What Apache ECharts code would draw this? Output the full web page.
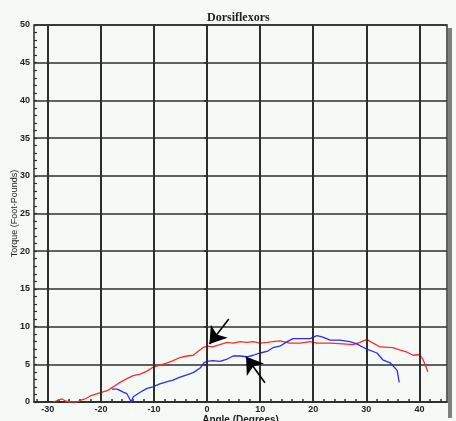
<!DOCTYPE html>
<html>
<head>
<meta charset="utf-8">
<script src="https://cdn.jsdelivr.net/npm/echarts@6/dist/echarts.min.js"></script>
<style>
  html, body { margin: 0; padding: 0; background: #f5faf7; }
  #chart { width: 456px; height: 421px; }
</style>
</head>
<body>
<div id="chart"></div>
<script>
// Dorsiflexor torque vs. ankle angle, two trials
const redAngle = [-29.0,-28.2,-27.3,-26.6,-25.8,-24.5,-23.9,-23.0,-22.0,-20.2,-18.8,-17.7,-16.4,-15.1,-13.9,-12.6,-11.3,-10.2,-8.9,-7.5,-6.4,-5.1,-3.8,-2.6,-1.9,-0.8,0,1.1,2.4,3.8,4.9,6.2,7.5,8.7,10.0,11.3,12.4,13.7,15.6,17.5,19.4,20.7,23.2,25.6,27.5,28.8,30.1,31.3,32.6,35.0,36.3,37.7,38.8,40.1,40.7,41.6];
const redTorque = [0,0.2,0.4,0.1,0,0,0.2,0.4,0.8,1.2,1.5,2.0,2.6,3.1,3.5,3.7,4.1,4.6,4.9,5.2,5.5,5.9,6.1,6.2,6.6,7.2,7.4,7.3,7.6,7.9,7.8,8.0,7.9,8.0,7.8,7.9,8.0,8.1,7.8,7.8,8.0,7.8,7.8,7.7,7.6,7.9,8.3,7.8,7.3,7.2,6.9,6.6,6.2,6.3,5.6,4.0];

const blueAngle = [-17.9,-16.9,-15.8,-15.1,-14.5,-14.3,-13.9,-12.6,-11.3,-10.2,-8.9,-7.5,-6.4,-5.1,-3.8,-2.6,-1.3,-0.6,0,1.1,2.4,3.8,4.9,6.2,7.5,8.7,10.0,11.3,12.4,13.7,15.1,16.2,17.5,19.4,20.7,21.8,23.2,25.0,26.9,28.2,30.1,32.0,33.1,34.5,35.8,36.2];
const blueTorque = [1.7,1.7,1.3,1.1,0.3,0.0,0.7,1.3,1.8,2.0,2.4,2.7,2.9,3.3,3.6,3.9,4.5,5.2,5.4,5.5,5.4,5.7,6.1,6.1,6.0,6.2,6.5,6.7,7.2,7.4,8.0,8.4,8.4,8.4,8.8,8.6,8.2,8.2,8.0,7.7,7.0,6.5,5.6,5.2,4.2,2.6];

// axis ticks and labels
const xLabelValues = [-30,-20,-10,0,10,20,30,40];
const xTickValues = [-32,-30,-28,-26,-24,-22,-20,-18,-16,-14,-12,-10,-8,-6,-4,-2,0,2,4,6,8,10,12,14,16,18,20,22,24,26,28,30,32,34,36,38,40,42,44];

// annotation arrows: [start angle, start torque, tip angle, tip torque]
const arrowA = [4.1, 11.0, 0.45, 7.7];
const arrowB = [10.9, 2.55, 7.35, 6.0];

const zip = (a, b) => a.map((v, i) => [v, b[i]]);
const ink = '#2e2e2e';
const tickFont = { fontFamily: 'Liberation Sans, Arial, sans-serif', fontSize: 9, fontWeight: 'bold', color: '#222' };

const chart = echarts.init(document.getElementById('chart'), null, { renderer: 'canvas' });

const arrowItem = (a) => [
  { coord: [a[0], a[1]], symbol: 'none' },
  { coord: [a[2], a[3]], symbol: 'arrow' }
];

chart.setOption({
  animation: false,
  backgroundColor: '#f5faf7',
  title: {
    text: 'Dorsiflexors',
    left: 202,
    top: 7,
    textStyle: { fontFamily: 'Liberation Serif, Times New Roman, serif', fontSize: 12, fontWeight: 'bold', color: '#222' }
  },
  graphic: [
    { type: 'rect', shape: { x: 448, y: 28, width: 4, height: 390 }, style: { fill: '#808080' }, silent: true }
  ],
  grid: {
    left: 34, top: 25, width: 413, height: 377,
    containLabel: false,
    outerBoundsMode: 'none',
    show: true, borderColor: ink, borderWidth: 1.5, backgroundColor: 'transparent'
  },
  xAxis: {
    type: 'value',
    min: -32.6,
    max: 45.2,
    name: 'Angle (Degrees)',
    nameLocation: 'middle',
    nameGap: 13,
    nameMoveOverlap: false,
    nameTextStyle: { fontFamily: 'Liberation Sans, Arial, sans-serif', fontSize: 10, fontWeight: 'bold', color: '#222', verticalAlign: 'top' },
    axisLine: { show: true, onZero: false, lineStyle: { color: ink, width: 1.5 } },
    axisTick: { show: true, inside: true, length: 3, customValues: xTickValues, lineStyle: { color: ink, width: 1.5 } },
    axisLabel: Object.assign({ customValues: xLabelValues, margin: 3 }, tickFont),
    splitLine: { show: false }
  },
  yAxis: [
    {
      type: 'value',
      min: 0, max: 50, interval: 5,
      name: 'Torque (Foot-Pounds)',
      nameLocation: 'middle',
      nameRotate: 90,
      nameGap: 15,
      nameMoveOverlap: false,
      nameTextStyle: { fontFamily: 'Liberation Sans, Arial, sans-serif', fontSize: 9, color: '#222' },
      axisLine: { show: true, lineStyle: { color: ink, width: 1.5 } },
      axisTick: { show: true, inside: false, length: 3, lineStyle: { color: ink, width: 1.5 } },
      axisLabel: Object.assign({ margin: 4 }, tickFont),
      splitLine: { show: true, lineStyle: { color: ink, width: 1.5 } }
    },
    {
      type: 'value',
      min: 0, max: 50, interval: 1,
      position: 'left',
      axisLine: { show: false },
      axisTick: { show: true, inside: true, length: 3, lineStyle: { color: ink, width: 1.2 } },
      axisLabel: { show: false },
      splitLine: { show: false }
    }
  ],
  series: [
    {
      // vertical grid lines at the labelled angles
      type: 'line',
      data: [],
      z: 1,
      silent: true,
      markLine: {
        silent: true,
        symbol: 'none',
        label: { show: false },
        lineStyle: { color: ink, width: 2, type: 'solid' },
        data: xLabelValues.map(v => ({ xAxis: v }))
      }
    },
    {
      name: 'Trial 1',
      type: 'line',
      z: 3,
      data: zip(redAngle, redTorque),
      showSymbol: false,
      lineStyle: { color: '#ff2a2a', width: 1.3 },
      itemStyle: { color: '#ff2a2a' }
    },
    {
      name: 'Trial 2',
      type: 'line',
      z: 3,
      data: zip(blueAngle, blueTorque),
      showSymbol: false,
      lineStyle: { color: '#2b2bff', width: 1.3 },
      itemStyle: { color: '#2b2bff' },
      markLine: {
        silent: true,
        symbolSize: 16,
        label: { show: false },
        lineStyle: { color: '#000', width: 1.6, type: 'solid' },
        itemStyle: { color: '#000' },
        data: [arrowItem(arrowA), arrowItem(arrowB)]
      }
    }
  ]
});
</script>
</body>
</html>
